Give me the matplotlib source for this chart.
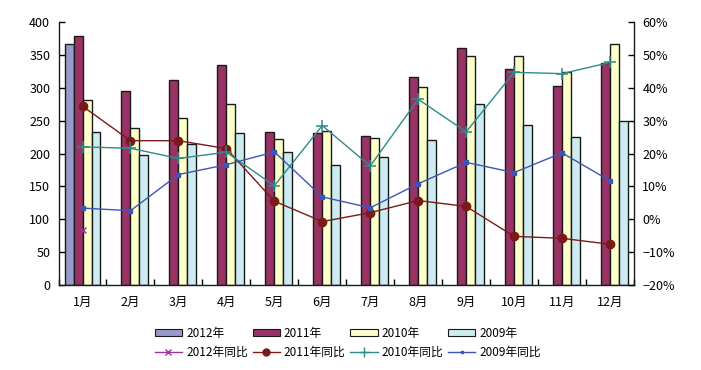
import numpy as np
import matplotlib
matplotlib.use("Agg")
import matplotlib.pyplot as plt
from matplotlib.patches import Patch
from matplotlib.lines import Line2D

plt.rcParams['font.family'] = ['Noto Sans CJK SC', 'DejaVu Sans']

months = ['1月', '2月', '3月', '4月', '5月', '6月', '7月', '8月', '9月', '10月', '11月', '12月']
v2012 = [366, np.nan, np.nan, np.nan, np.nan, np.nan, np.nan, np.nan, np.nan, np.nan, np.nan, np.nan]
v2011 = [378, 295, 312, 335, 232, 231, 226, 317, 361, 328, 302, 337]
v2010 = [282, 239, 254, 276, 222, 234, 224, 301, 349, 348, 324, 366]
v2009 = [232, 198, 214, 231, 203, 182, 195, 220, 276, 243, 225, 249]
y2012 = [-3.3, np.nan, np.nan, np.nan, np.nan, np.nan, np.nan, np.nan, np.nan, np.nan, np.nan, np.nan]
y2011 = [34.4, 23.9, 23.9, 21.5, 5.5, -0.7, 2.0, 5.7, 3.9, -5.2, -5.8, -7.6]
y2010 = [22.0, 21.6, 18.5, 20.4, 10.2, 28.5, 16.2, 36.5, 26.6, 44.7, 44.3, 47.7]
y2009 = [3.4, 2.6, 13.6, 16.6, 20.5, 6.8, 3.5, 10.8, 17.3, 14.2, 20.2, 11.7]
right_ticks = [-20, -10, 0, 10, 20, 30, 40, 50, 60]
right_labels = ['−20%', '−10%', '0%', '10%', '20%', '30%', '40%', '50%', '60%']

c2012, c2011, c2010, c2009 = '#9999CC', '#993366', '#FFFFCC', '#CCECF2'
l2012, l2011, l2010, l2009 = '#993399', '#7B1A1A', '#2E8B8B', '#3F55B5'

fig = plt.figure(figsize=(7.01, 3.70), dpi=100)
ax = fig.add_axes([0.0835, 0.2297, 0.8209, 0.7108])
ax2 = ax.twinx()

x = np.arange(len(months))
w = 0.1875
for i, (vals, col) in enumerate([(v2012, c2012), (v2011, c2011), (v2010, c2010), (v2009, c2009)]):
    ax.bar(x + (i - 1.5) * w, vals, width=w, color=col, edgecolor='#1a1a1a', linewidth=1.0, zorder=2)

ax2.plot(x, y2012, color=l2012, marker='x', markersize=5, linewidth=1.0)
ax2.plot(x, y2011, color=l2011, marker='o', markersize=6, linewidth=1.0)
ax2.plot(x, y2010, color=l2010, marker='+', markersize=8, markeredgewidth=1.1, linewidth=1.0)
ax2.plot(x, y2009, color=l2009, marker='s', markersize=2.5, linewidth=1.0)

ax.set_xlim(-0.5, 11.5)
ax.set_ylim(0, 400)
ax.set_yticks(np.arange(0, 401, 50))
ax2.set_ylim(-20, 60)
ax2.set_yticks(right_ticks)
ax2.set_yticklabels(right_labels)

ax.set_xticks(np.arange(-0.5, 12, 1))
ax.set_xticklabels([])
ax.set_xticks(x, minor=True)
ax.set_xticklabels(months, minor=True)
ax.tick_params(axis='x', which='minor', length=0, pad=8, labelsize=9)
ax.tick_params(axis='x', which='major', direction='in', length=4, width=1)
ax.tick_params(axis='y', direction='in', length=4, width=1, labelsize=9, pad=6)
ax2.tick_params(axis='y', direction='in', length=4, width=1, labelsize=9, pad=6)

for a in (ax, ax2):
    a.spines['top'].set_visible(False)
    for s in ('left', 'right', 'bottom'):
        a.spines[s].set_linewidth(1.0)
        a.spines[s].set_color('#1a1a1a')
ax.spines['right'].set_visible(False)
ax2.spines['left'].set_visible(False)
ax2.spines['bottom'].set_visible(False)

handles = [
    Patch(facecolor=c2012, edgecolor='#1a1a1a', linewidth=0.8),
    Line2D([], [], color=l2012, marker='x', markersize=5, linewidth=1.0),
    Patch(facecolor=c2011, edgecolor='#1a1a1a', linewidth=0.8),
    Line2D([], [], color=l2011, marker='o', markersize=5, linewidth=1.0),
    Patch(facecolor=c2010, edgecolor='#1a1a1a', linewidth=0.8),
    Line2D([], [], color=l2010, marker='+', markersize=7, linewidth=1.0),
    Patch(facecolor=c2009, edgecolor='#1a1a1a', linewidth=0.8),
    Line2D([], [], color=l2009, marker='s', markersize=2, linewidth=1.0),
]
labels = ['2012年', '2012年同比', '2011年', '2011年同比', '2010年', '2010年同比', '2009年', '2009年同比']
fig.legend(handles, labels, ncol=4, loc='center', bbox_to_anchor=(348 / 701, 1 - 343 / 370),
           frameon=False, fontsize=8.5, handlelength=2.3, handleheight=0.6, handletextpad=0.35,
           columnspacing=0.4, labelspacing=0.55, borderpad=0)

fig.savefig('out.png', dpi=100)
